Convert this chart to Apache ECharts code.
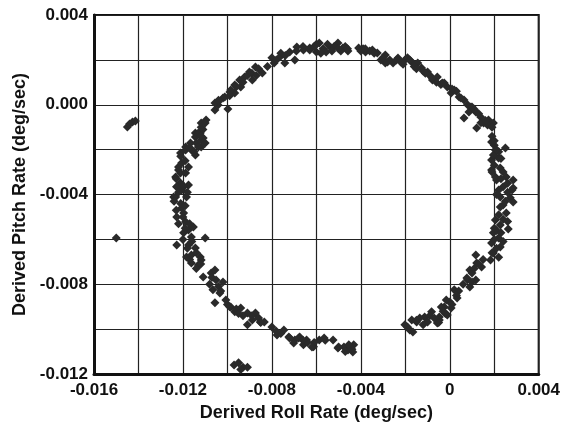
<!DOCTYPE html>
<html lang="en">
<head>
    <meta charset="UTF-8">
    <title>Derived Roll vs Pitch Rate</title>
    <script src="https://cdn.jsdelivr.net/npm/echarts@6/dist/echarts.min.js"></script>
    <style>
        body { margin: 0; background: #fff; }
    </style>
</head>
<body>
    <div id="box" style="width: 563px; height: 429px;"></div>
</body>
<script>
    // points, [roll, pitch] in deg/sec, grouped by part of the ring
    var upperLeftArc = [[-0.01056,-0.00023],[-0.01042,0.00012],[-0.0102,0.0003],[-0.00998,-0.00019],[-0.00989,0.00057],[-0.00967,0.00088],[-0.00945,0.0011],[-0.00923,0.00124],[-0.00901,0.00146],[-0.00874,0.00168],[-0.00843,0.00142],[-0.00967,0.00052],[-0.0094,0.00079],[-0.00888,0.0011],[-0.0079,0.00186],[-0.00764,0.00213],[-0.00742,0.00186],[-0.0072,0.00235],[-0.00688,0.00257],[-0.00658,0.00244],[-0.0063,0.00253],[-0.00697,0.002],[-0.01042,-0.00001],[-0.01012,0.00035],[-0.01118,-0.00081],[-0.01096,-0.00068],[-0.01144,-0.00126],[-0.01056,0.00008],[-0.00985,0.00066],[-0.0091,0.0013],[-0.0086,0.0016],[-0.0082,0.0017],[-0.008,0.0021],[-0.0076,0.0023],
        [-0.0104,0.0002],[-0.0099,0.0004],[-0.0096,0.0008],[-0.0093,0.001],[-0.0089,0.0014],[-0.0087,0.0013],[-0.0078,0.002],[-0.0074,0.0022],[-0.0069,0.0024],[-0.0066,0.0026],[-0.0111,-0.0011]]
    var topArc = [[-0.0063,0.00244],[-0.00587,0.00275],[-0.00556,0.00235],[-0.00534,0.00253],[-0.00503,0.00275],[-0.00481,0.00253],[-0.00458,0.0024],[-0.006,0.00235],[-0.0041,0.00253],[-0.00379,0.00235],[-0.00348,0.00244],[-0.00326,0.00231],[-0.0029,0.00222],[-0.0029,0.00186],[-0.00255,0.00186],[-0.00233,0.00208],[-0.00202,0.002],[-0.00171,0.0019],[-0.00144,0.00186],[-0.00127,0.00164],[-0.001,0.00146],[-0.00078,0.0011],[-0.00056,0.00124],[-0.00034,0.00097],[-0.00011,0.00079],[0.00006,0.00052],[-0.0061,0.0026],[-0.0057,0.0025],[-0.0052,0.0026],[-0.0049,0.0024],[-0.0047,0.0026],[-0.0039,0.0025],[-0.0036,0.0024],[-0.0031,0.002],[-0.0027,0.002],[-0.0022,0.0019],[-0.0019,0.0021],[-0.0016,0.0017],[-0.0012,0.0015],[-0.0009,0.0013],[-0.0006,0.001],
        [-0.006,0.0027],[-0.0058,0.0023],[-0.0055,0.0027],[-0.0053,0.0024],[-0.005,0.0025],[-0.0046,0.0025],[-0.004,0.0024],[-0.0038,0.0025],[-0.0034,0.0023],[-0.003,0.0021],[-0.0028,0.0019],[-0.0024,0.002],[-0.0021,0.0018],[-0.0018,0.002],[-0.0015,0.0016],[-0.0011,0.0014],[-0.0008,0.0012],[-0.0004,0.0009]]
    var rightArc = [[-0.00025,0.00097],[0.0002,0.00066],[0.00042,0.00035],[0.00064,0.00021],[0.00095,-0.0001],[0.00117,-0.00032],[0.00064,-0.00059],[0.00086,-0.00032],[0.00139,-0.00055],[0.00152,-0.00081],[0.00174,-0.00068],[0.00196,-0.00081],[0.00121,-0.00104],[0.00188,-0.00166],[0.00205,-0.00202],[0.0025,-0.00193],[0.00188,-0.00246],[0.00219,-0.00237],[0.00188,-0.00291],[0.00227,-0.00282],[0.00254,-0.00322],[0.00285,-0.00335],[0.0021,-0.00335],[0.0024,-0.00366],[0.00285,-0.00371],[0.00227,-0.00411],[0.00272,-0.00415],[0.0024,-0.00447],[0.00196,-0.00224],[0.00205,-0.00322],[0.0003,0.0006],[0.0008,0],[0.0011,-0.0002],[0.0014,-0.0008],[0.0017,-0.0009],[0.0019,-0.0014],[0.002,-0.0018],[0.0022,-0.0021],[0.002,-0.0027],[0.0024,-0.003],[0.0022,-0.0038],[0.0026,-0.0039],
        [0.0001,0.0007],[0.0005,0.0003],[0.001,-0.0001],[0.0013,-0.0004],[0.0016,-0.0007],[0.0019,-0.001],[0.002,-0.0016],[0.0021,-0.002],[0.0023,-0.0024],[0.0019,-0.003],[0.0023,-0.0033],[0.0026,-0.0035],[0.0021,-0.004],[0.0025,-0.0043],[0.0028,-0.0038]]
    var lowerRightArc = [[0.00285,-0.00433],[0.00227,-0.00456],[0.00254,-0.00482],[0.00205,-0.00514],[0.00227,-0.00536],[0.00263,-0.00554],[0.00196,-0.00571],[0.00219,-0.00594],[0.00188,-0.00616],[0.00227,-0.00634],[0.00196,-0.00661],[0.00183,-0.00692],[0.00117,-0.0067],[0.00121,-0.00705],[0.00143,-0.00723],[0.0009,-0.00736],[0.00077,-0.00772],[0.00117,-0.00781],[0.0009,-0.00812],[0.0002,-0.00825],[0.00033,-0.00861],[0,-0.00879],[-0.00025,-0.00901],[0.00006,-0.00906],[-0.00047,-0.00946],[-0.00011,-0.00937],[-0.00056,-0.00973],[-0.00016,-0.0087],[-0.00038,-0.00901],[-0.00047,-0.00959],[-0.00082,-0.00923],[-0.00113,-0.00946],[-0.00135,-0.0095],[-0.00149,-0.00968],[-0.00171,-0.00959],[-0.00202,-0.00981],[-0.0018,-0.01004],[-0.00166,-0.01013],[-0.001,-0.00968],[0.0024,-0.0051],[0.0021,-0.0056],[0.0024,-0.0061],[0.0021,-0.0064],[0.0022,-0.0068],[0.0015,-0.0069],[0.001,-0.0075],[0.0006,-0.008],[0.0004,-0.0083],[-0.0002,-0.0093],[-0.0007,-0.0095],[-0.0012,-0.0098],
        [0.0022,-0.0049],[0.0026,-0.0052],[0.002,-0.0055],[0.0023,-0.0057],[0.002,-0.006],[0.0019,-0.0066],[0.0013,-0.0071],[0.0011,-0.0073],[0.0008,-0.0078],[0.001,-0.0079],[0.0003,-0.0085],[0.0001,-0.0089],[-0.0003,-0.0092],[-0.0005,-0.0097],[-0.0009,-0.0094],[-0.0015,-0.0096],[-0.0019,-0.0099]]
    var bottomArc = [[-0.01184,-0.00678],[-0.01162,-0.00705],[-0.01131,-0.00714],[-0.01118,-0.00692],[-0.01109,-0.00768],[-0.01073,-0.0075],[-0.01056,-0.00736],[-0.01051,-0.00781],[-0.0102,-0.0079],[-0.01065,-0.00825],[-0.01034,-0.00839],[-0.01056,-0.00883],[-0.01007,-0.0087],[-0.00985,-0.00901],[-0.00967,-0.00923],[-0.0094,-0.00906],[-0.0091,-0.00928],[-0.00874,-0.00928],[-0.00888,-0.00959],[-0.00852,-0.00968],[-0.00834,-0.00968],[-0.0091,-0.00981],[-0.00777,-0.01026],[-0.00746,-0.01004],[-0.00724,-0.01035],[-0.00697,-0.01048],[-0.00675,-0.01035],[-0.00644,-0.01048],[-0.00613,-0.01079],[-0.00702,-0.01062],[-0.00658,-0.0107],[-0.00587,-0.01048],[-0.00565,-0.0104],[-0.00525,-0.01048],[-0.00503,-0.01084],[-0.00476,-0.0108],[-0.00458,-0.01093],[-0.00445,-0.01084],[-0.00432,-0.0107],[-0.00454,-0.0107],[-0.00436,-0.01102],[-0.0114,-0.0073],[-0.0108,-0.008],[-0.0104,-0.0081],[-0.01,-0.0089],[-0.0096,-0.0091],[-0.0093,-0.0094],[-0.0086,-0.0095],[-0.008,-0.0099],[-0.0076,-0.0102],[-0.0068,-0.0104],[-0.0064,-0.0106],[-0.0061,-0.0106],
        [-0.0117,-0.0069],[-0.0112,-0.0071],[-0.0107,-0.0077],[-0.0103,-0.0083],[-0.0099,-0.009],[-0.0095,-0.0093],[-0.0089,-0.0094],[-0.0085,-0.0097],[-0.0078,-0.0101],[-0.0072,-0.0104],[-0.0066,-0.0105],[-0.0062,-0.0108],[-0.0056,-0.0105],[-0.005,-0.0108],[-0.0047,-0.011],[-0.0044,-0.0109]]
    var leftSide = [[-0.01122,-0.00126],[-0.01109,-0.00148],[-0.0114,-0.0017],[-0.01188,-0.00188],[-0.01162,-0.00202],[-0.01118,-0.00188],[-0.01211,-0.00215],[-0.01144,-0.00224],[-0.01206,-0.0026],[-0.01175,-0.00277],[-0.0122,-0.00291],[-0.01188,-0.00304],[-0.01211,-0.00349],[-0.01175,-0.00358],[-0.01228,-0.00366],[-0.01206,-0.0038],[-0.01233,-0.00411],[-0.01184,-0.00411],[-0.01206,-0.0046],[-0.01228,-0.005],[-0.01197,-0.00482],[-0.01188,-0.00522],[-0.01175,-0.00558],[-0.01153,-0.00545],[-0.01197,-0.00571],[-0.01162,-0.00589],[-0.011,-0.00594],[-0.01228,-0.00625],[-0.01175,-0.00625],[-0.01144,-0.00638],[-0.01162,-0.0067],[-0.01122,-0.00678],[-0.01131,-0.00126],[-0.01118,-0.001],[-0.011,-0.00081],[-0.01144,-0.00144],[-0.01166,-0.0017],[-0.01188,-0.00202],[-0.01131,-0.00188],[-0.01118,-0.00157],[-0.011,-0.0017],[-0.0122,-0.00277],[-0.01233,-0.00322],[-0.01211,-0.00304],[-0.01242,-0.00411],[-0.01228,-0.00366],[-0.01197,-0.00366],[-0.0121,-0.0044],[-0.0124,-0.0043],[-0.0122,-0.0053],[-0.012,-0.006],[-0.0118,-0.0064],
        [-0.0121,-0.0023],[-0.0119,-0.0025],[-0.0123,-0.0033],[-0.012,-0.0036],[-0.0118,-0.0039],[-0.0122,-0.0039],[-0.0119,-0.0045],[-0.0123,-0.0047],[-0.012,-0.005],[-0.0117,-0.0053],[-0.0119,-0.0055],[-0.0116,-0.0061],[-0.0114,-0.0066],[-0.0112,-0.0014],[-0.0115,-0.0021],[-0.0117,-0.0019]]
    var strays = [[-0.0145,-0.00099],[-0.01427,-0.00077],[-0.01414,-0.00072],[-0.0144,-0.00086],[-0.015,-0.00594],[-0.0097,-0.0116],[-0.0093,-0.0117],[-0.0091,-0.0117],[-0.0095,-0.0115],[-0.0094,-0.0118]]

    var xTicks = { min: -0.016, max: 0.004, step: 0.002 }
    var yTicks = { min: -0.012, max: 0.004, step: 0.002 }

    var allPoints = [].concat(upperLeftArc, topArc, rightArc, lowerRightArc, bottomArc, leftSide, strays)

    var font = "'Liberation Sans', Arial, sans-serif"

    // only every other grid line gets a label
    function everyOther(v, fmt) {
        var k = Math.round(v / 0.002)
        if (k % 2 !== 0) return ''
        return fmt(v)
    }

    var mEcharts = echarts.init(document.querySelector('#box'))
    var option = {
        animation: false,
        backgroundColor: '#fff',
        grid: {
            left: 94, right: 17, top: 15, bottom: 55,
            show: true, borderColor: '#111', borderWidth: 2,
            backgroundColor: '#fff'
        },
        xAxis: {
            type: 'value',
            min: xTicks.min, max: xTicks.max, interval: xTicks.step,
            name: 'Derived Roll Rate (deg/sec)',
            nameLocation: 'middle',
            nameGap: 30,
            nameTextStyle: { fontFamily: font, fontWeight: 'bold', fontSize: 18, color: '#111' },
            axisLine: { show: true, onZero: false, lineStyle: { color: '#111', width: 3 } },
            axisTick: { show: false },
            splitLine: { show: true, lineStyle: { color: '#222', width: 1.2 } },
            axisLabel: {
                margin: 8,
                fontFamily: font, fontWeight: 'bold', fontSize: 17, color: '#111',
                formatter: function (v) {
                    return everyOther(v, function (x) { return Math.abs(x) < 1e-9 ? '0' : x.toFixed(3) })
                }
            }
        },
        yAxis: {
            type: 'value',
            min: yTicks.min, max: yTicks.max, interval: yTicks.step,
            name: 'Derived Pitch Rate (deg/sec)',
            nameLocation: 'middle',
            nameGap: 60,
            nameTextStyle: { fontFamily: font, fontWeight: 'bold', fontSize: 18, color: '#111' },
            axisLine: { show: true, onZero: false, lineStyle: { color: '#111', width: 3 } },
            axisTick: { show: false },
            splitLine: { show: true, lineStyle: { color: '#222', width: 1.2 } },
            axisLabel: {
                margin: 6,
                fontFamily: font, fontWeight: 'bold', fontSize: 17, color: '#111',
                formatter: function (v) {
                    return everyOther(v, function (y) { return (Math.abs(y) < 1e-9 ? 0 : y).toFixed(3) })
                }
            }
        },
        series: [{
            type: 'scatter',
            data: allPoints,
            symbol: 'diamond',
            symbolSize: 9,
            itemStyle: { color: '#2a2a2a', opacity: 1 }
        }]
    }
    mEcharts.setOption(option)
</script>
</html>
